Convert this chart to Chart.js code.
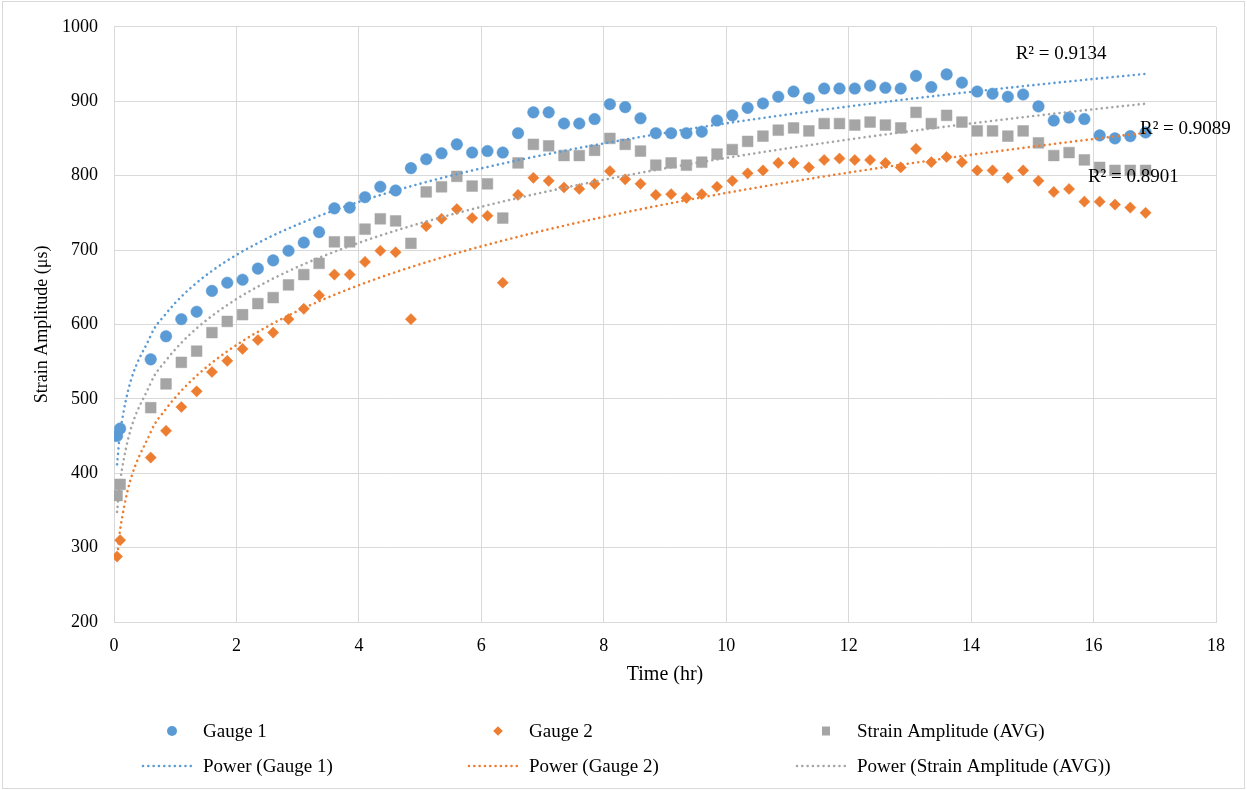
<!DOCTYPE html>
<html>
<head>
<meta charset="utf-8">
<script src="https://cdn.jsdelivr.net/npm/chart.js@4.4.1/dist/chart.umd.min.js"></script>
<style>
html,body{margin:0;padding:0;background:#fff;}
canvas{display:block;}
</style>
</head>
<body>
<canvas id="c" width="1247" height="790"></canvas>
<script>
// ---- Data ----
const times = [0.05, 0.1, 0.6, 0.85, 1.1, 1.35, 1.6, 1.85, 2.1, 2.35, 2.6, 2.85, 3.1, 3.35, 3.6, 3.85,
  4.1, 4.35, 4.6, 4.85, 5.1, 5.35, 5.6, 5.85, 6.1, 6.35, 6.6, 6.85, 7.1, 7.35, 7.6, 7.85,
  8.1, 8.35, 8.6, 8.85, 9.1, 9.35, 9.6, 9.85, 10.1, 10.35, 10.6, 10.85, 11.1, 11.35, 11.6, 11.85,
  12.1, 12.35, 12.6, 12.85, 13.1, 13.35, 13.6, 13.85, 14.1, 14.35, 14.6, 14.85, 15.1, 15.35, 15.6, 15.85,
  16.1, 16.35, 16.6, 16.85];

const gauge1 = [450, 460, 553, 584, 607, 617, 645, 656, 660, 675, 686, 699, 710, 724, 756, 757,
  771, 785, 780, 810, 822, 830, 842, 831, 833, 831, 857, 885, 885, 870, 870, 876,
  896, 892, 877, 857, 857, 857, 859, 874, 881, 891, 897, 906, 913, 904, 917, 917,
  917, 921, 918, 917, 934, 919, 936, 925, 913, 910, 906, 909, 893, 874, 878, 876,
  854, 850, 853, 858];

const gauge2 = [288, 310, 421, 457, 489, 510, 536, 551, 567, 579, 589, 607, 621, 639, 667, 667,
  684, 699, 697, 607, 732, 742, 755, 743, 746, 656, 774, 797, 793, 784, 782, 789,
  806, 795, 789, 774, 775, 770, 775, 785, 793, 803, 807, 817, 817, 811, 821, 823,
  821, 821, 817, 811, 836, 818, 825, 818, 807, 807, 797, 807, 793, 778, 782, 765,
  765, 761, 757, 750];

const strainAvg = [370, 385, 488, 520, 549, 564, 589, 604, 613, 628, 636, 653, 667, 682, 711, 711,
  728, 742, 739, 709, 778, 785, 799, 786, 789, 743, 817, 842, 840, 827, 827, 834,
  850, 842, 833, 814, 817, 814, 818, 829, 835, 846, 853, 861, 864, 860, 870, 870,
  868, 872, 868, 864, 885, 870, 881, 872, 860, 860, 853, 860, 844, 827, 831, 821,
  811, 807, 807, 807];

const seriesNames = ['Gauge 1', 'Gauge 2', 'Strain Amplitude (AVG)'];
const rSquaredLabels = ['R\u00B2 = 0.9134', 'R\u00B2 = 0.9089', 'R\u00B2 = 0.8901'];

// ---- Excel-style power trendline (least squares on ln-ln) ----
function powerFit(xs, ys) {
  let n = xs.length, sx = 0, sy = 0, sxx = 0, sxy = 0;
  for (let i = 0; i < n; i++) {
    const lx = Math.log(xs[i]), ly = Math.log(ys[i]);
    sx += lx; sy += ly; sxx += lx * lx; sxy += lx * ly;
  }
  const b = (n * sxy - sx * sy) / (n * sxx - sx * sx);
  const a = Math.exp((sy - b * sx) / n);
  return { a, b };
}
function pts(xs, ys) { return xs.map((x, i) => ({ x: x, y: ys[i] })); }
function trendPts(xs, ys) {
  const f = powerFit(xs, ys);
  return xs.map(x => ({ x: x, y: f.a * Math.pow(x, f.b) }));
}

const COLORS = ['#5B9BD5', '#ED7D31', '#A5A5A5'];
const FONT = '"Liberation Serif", "Times New Roman", serif';
const FSIZE = 18;
const seriesValues = [gauge1, gauge2, strainAvg];
const pointStyles = ['circle', 'rectRot', 'rect'];
const pointRadii = [5.8, 5.6, 7.6];

const datasets = [];
seriesValues.forEach((vals, i) => {
  datasets.push({
    type: 'line',
    label: 'Power (' + seriesNames[i] + ')',
    data: trendPts(times, vals),
    borderColor: COLORS[i],
    borderWidth: 2.6,
    borderDash: [0.01, 5.3],
    borderCapStyle: 'round',
    pointRadius: 0,
    cubicInterpolationMode: 'monotone',
    fill: false,
    order: 1
  });
});
seriesValues.forEach((vals, i) => {
  datasets.push({
    type: 'scatter',
    label: seriesNames[i],
    data: pts(times, vals),
    backgroundColor: COLORS[i],
    borderColor: COLORS[i],
    borderWidth: 0.5,
    pointStyle: pointStyles[i],
    pointRadius: pointRadii[i],
    pointHoverRadius: pointRadii[i],
    showLine: false,
    order: 2 + (2 - i)
  });
});

// positions of the R² labels in data coordinates
const rLabelAnchors = [{ x: 15.47, y: 964 }, { x: 17.5, y: 862 }, { x: 16.65, y: 798 }];

const decorPlugin = {
  id: 'decor',
  beforeDraw(chart) {
    const ctx = chart.ctx;
    ctx.save();
    ctx.fillStyle = '#fff';
    ctx.fillRect(0, 0, chart.width, chart.height);
    ctx.strokeStyle = '#d9d9d9';
    ctx.lineWidth = 1;
    ctx.strokeRect(2.5, 1.5, chart.width - 5, chart.height - 3);
    ctx.restore();
  },
  afterDraw(chart) {
    const ctx = chart.ctx;
    const xs = chart.scales.x, ys = chart.scales.y;
    ctx.save();
    // R² labels
    ctx.font = '19px ' + FONT;
    ctx.fillStyle = '#000';
    ctx.textAlign = 'center';
    ctx.textBaseline = 'middle';
    rSquaredLabels.forEach((t, i) => {
      ctx.fillText(t, xs.getPixelForValue(rLabelAnchors[i].x), ys.getPixelForValue(rLabelAnchors[i].y));
    });
    // Legend
    ctx.font = '19px ' + FONT;
    const colX = [203, 529, 857];
    const rowY = [731, 766];
    ctx.textAlign = 'left';
    for (let i = 0; i < 3; i++) {
      const x = colX[i];
      const y0 = rowY[0];
      ctx.fillStyle = COLORS[i];
      const mx = x - 31;
      ctx.beginPath();
      if (pointStyles[i] === 'circle') {
        ctx.arc(mx, y0, 5, 0, Math.PI * 2);
      } else if (pointStyles[i] === 'rectRot') {
        ctx.moveTo(mx - 4.8, y0); ctx.lineTo(mx, y0 - 4.8); ctx.lineTo(mx + 4.8, y0); ctx.lineTo(mx, y0 + 4.8); ctx.closePath();
      } else {
        ctx.rect(mx - 4, y0 - 4.5, 8, 9);
      }
      ctx.fill();
      ctx.fillStyle = '#000';
      ctx.fillText(seriesNames[i], x, y0 + 1);
      const y1 = rowY[1];
      ctx.strokeStyle = COLORS[i];
      ctx.lineWidth = 2.6;
      ctx.lineCap = 'round';
      ctx.setLineDash([0.01, 5.3]);
      ctx.beginPath();
      ctx.moveTo(x - 60, y1);
      ctx.lineTo(x - 10, y1);
      ctx.stroke();
      ctx.setLineDash([]);
      ctx.fillStyle = '#000';
      ctx.fillText('Power (' + seriesNames[i] + ')', x, y1 + 1);
    }
    ctx.restore();
  }
};

new Chart(document.getElementById('c'), {
  data: { datasets: datasets },
  options: {
    responsive: false,
    animation: false,
    events: [],
    layout: { padding: { left: 0, right: 31, top: 24, bottom: 98 } },
    plugins: { legend: { display: false }, tooltip: { enabled: false }, title: { display: false } },
    scales: {
      x: {
        type: 'linear',
        min: 0, max: 18,
        ticks: { stepSize: 2, color: '#000', font: { family: FONT, size: FSIZE }, padding: 13, maxRotation: 0,
          callback: v => String(v) },
        grid: { color: '#d9d9d9', lineWidth: 1, drawTicks: false },
        border: { color: '#d9d9d9' },
        title: { display: true, text: 'Time (hr)', color: '#000', font: { family: FONT, size: 20 }, padding: { top: 0, bottom: 5 } },
        afterFit(scale) { scale.height = 70; }
      },
      y: {
        type: 'linear',
        min: 200, max: 1000,
        ticks: { stepSize: 100, color: '#000', font: { family: FONT, size: FSIZE }, padding: 16,
          callback: v => String(v) },
        grid: { color: '#d9d9d9', lineWidth: 1, drawTicks: false },
        border: { color: '#d9d9d9' },
        title: { display: true, text: 'Strain Amplitude (\u03BCs)', color: '#000', font: { family: FONT, size: FSIZE }, padding: { top: 31, bottom: 0 } },
        afterFit(scale) { scale.width = 114; }
      }
    }
  },
  plugins: [decorPlugin]
});
</script>
</body>
</html>
